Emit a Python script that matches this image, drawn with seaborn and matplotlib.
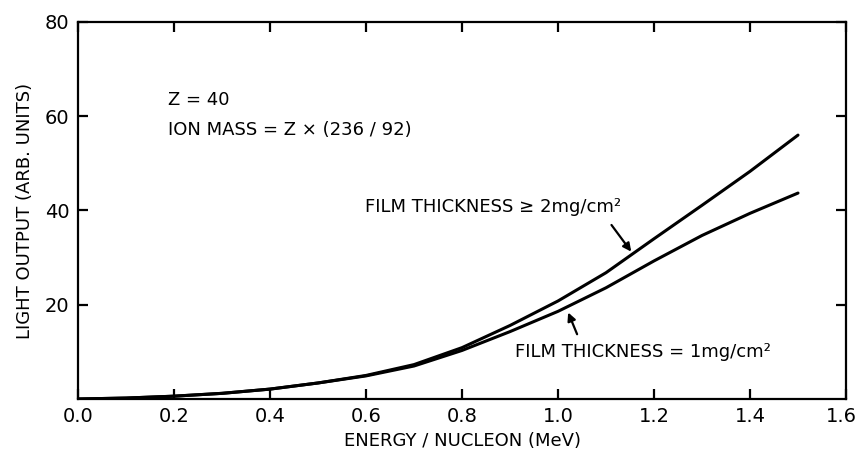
import matplotlib
matplotlib.use("Agg")
import matplotlib.pyplot as plt
import matplotlib.transforms as mtransforms
import seaborn as sns
import pandas as pd

# ---- data ----
energy = [0.0, 0.1, 0.2, 0.3, 0.4, 0.5, 0.6, 0.7, 0.8, 0.9, 1.0, 1.1, 1.2, 1.3, 1.4, 1.5]
thick_ge2 = [0.0, 0.2, 0.6, 1.2, 2.1, 3.4, 5.0, 7.3, 10.9, 15.6, 20.8, 26.8, 34.0, 41.1, 48.3, 56.0]
thick_1 = [0.0, 0.2, 0.6, 1.2, 2.1, 3.4, 4.9, 7.0, 10.3, 14.3, 18.6, 23.6, 29.3, 34.7, 39.4, 43.7]
series_names = ["FILM THICKNESS \u2265 2mg/cm\u00b2", "FILM THICKNESS = 1mg/cm\u00b2"]
x_ticks = [0.0, 0.2, 0.4, 0.6, 0.8, 1.0, 1.2, 1.4, 1.6]
y_ticks = [20, 40, 60, 80]

df = pd.concat([
    pd.DataFrame({"energy": energy, "light": thick_ge2, "film": series_names[0]}),
    pd.DataFrame({"energy": energy, "light": thick_1, "film": series_names[1]}),
])

sns.set_style("ticks")
plt.rcParams["font.family"] = ["DejaVu Sans"]
plt.rcParams["text.color"] = "black"
plt.rcParams["axes.labelcolor"] = "black"
plt.rcParams["xtick.color"] = "black"
plt.rcParams["ytick.color"] = "black"

fig = plt.figure(figsize=(8.59, 4.51), dpi=100)
ax = fig.add_axes([78 / 859, 1 - 399 / 451, (846 - 78) / 859, (399 - 22) / 451])

sns.lineplot(data=df, x="energy", y="light", hue="film", units="film", estimator=None,
             palette=["black", "black"], linewidth=2.2, legend=False, ax=ax, sort=True)

ax.set_xlim(0, 1.6)
ax.set_ylim(0, 80)
ax.set_xticks(x_ticks)
ax.set_xticklabels([f"{v:.1f}" for v in x_ticks])
ax.set_yticks(y_ticks)
ax.set_yticklabels([str(v) for v in y_ticks])
ax.tick_params(direction="in", length=7, width=1.6, top=True, right=True,
               labelsize=14, pad=6, colors="black")
for s in ax.spines.values():
    s.set_linewidth(1.6)
    s.set_color("black")

# keep the last x tick label inside the figure
last = ax.get_xticklabels()[-1]
last.set_transform(last.get_transform() + mtransforms.ScaledTranslation(-5 / 100, 0, fig.dpi_scale_trans))

ax.set_xlabel("ENERGY / NUCLEON (MeV)", fontsize=13, labelpad=4)
ax.set_ylabel("LIGHT OUTPUT (ARB. UNITS)", fontsize=13, labelpad=8)

ax.text(0.1875, 63.4, "Z = 40", fontsize=13, va="center", ha="left")
ax.text(0.1875, 57.1, "ION MASS = Z \u00d7 (236 / 92)", fontsize=13, va="center", ha="left")

ax.annotate(series_names[0], xy=(1.156, 30.8), xytext=(0.598, 40.7),
            fontsize=13, va="center", ha="left")
ax.annotate("", xy=(1.156, 30.8), xytext=(1.108, 37.4),
            arrowprops=dict(arrowstyle="-|>", color="black", lw=1.6, mutation_scale=12))
ax.annotate(series_names[1], xy=(1.019, 18.9), xytext=(0.910, 10.0),
            fontsize=13, va="center", ha="left")
ax.annotate("", xy=(1.019, 18.9), xytext=(1.042, 13.2),
            arrowprops=dict(arrowstyle="-|>", color="black", lw=1.6, mutation_scale=12))

fig.savefig("out.png", dpi=100)
